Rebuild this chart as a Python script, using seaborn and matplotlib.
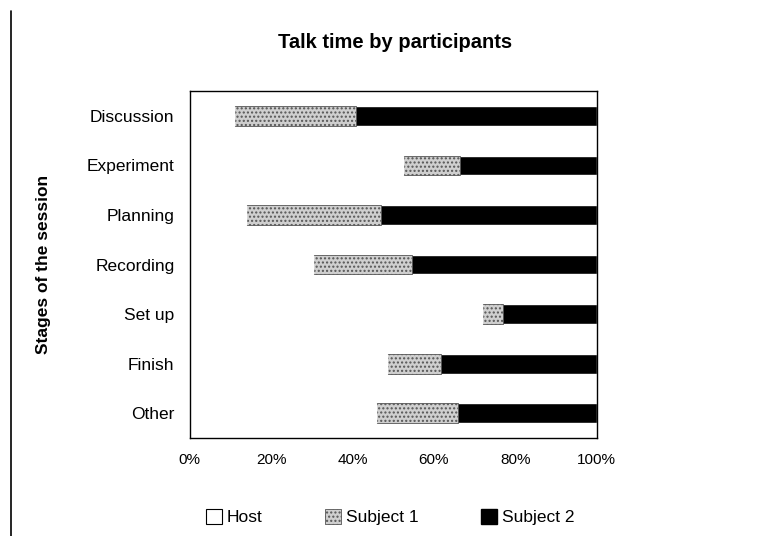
import numpy as np
import pandas as pd
import seaborn as sns
import matplotlib.pyplot as plt
from matplotlib.patches import Patch
from matplotlib.lines import Line2D

# values (percent of talk time)
stages = ['Discussion', 'Experiment', 'Planning', 'Recording', 'Set up', 'Finish', 'Other']
host = [10.8, 52.3, 13.9, 30.3, 71.9, 48.5, 45.7]
subject1 = [30.0, 14.2, 33.2, 24.2, 5.1, 13.3, 20.2]
subject2 = [59.2, 33.5, 52.9, 45.5, 23.0, 38.2, 34.1]
xticks = [0, 20, 40, 60, 80, 100]

df = pd.DataFrame({'stage': stages, 'host': host, 'subject1': subject1, 'subject2': subject2})
df['cum1'] = df['host'] + df['subject1']
df['cum2'] = df['cum1'] + df['subject2']

sns.set_style('white')
plt.rcParams['font.family'] = ['Liberation Sans', 'DejaVu Sans']
for k in ['text.color', 'axes.labelcolor', 'xtick.color', 'ytick.color']:
    plt.rcParams[k] = 'black'

fig = plt.figure(figsize=(7.65, 5.36), dpi=100)
ax = fig.add_axes([0.248, 0.183, 0.532, 0.647])

# stacked bars drawn back to front
sns.barplot(data=df, x='cum2', y='stage', orient='h', color='black', width=0.4,
            saturation=1, ax=ax)
sns.barplot(data=df, x='cum1', y='stage', orient='h', color='#cfcfcf', width=0.4,
            saturation=1, ax=ax, edgecolor='#555555', linewidth=0.6, hatch='....')
sns.barplot(data=df, x='host', y='stage', orient='h', color='white', width=0.4,
            saturation=1, ax=ax)

ax.set_xlim(0, 100)
ax.set_ylim(6.5, -0.5)
ax.set_xticks(xticks)
ax.set_xticklabels([f'{t}%' for t in xticks], fontsize=11)
ax.tick_params(axis='y', labelsize=12.5, length=0, pad=11)
ax.tick_params(axis='x', length=0, pad=11)
ax.set_xlabel('')
ax.set_ylabel('Stages of the session', fontsize=12.5, fontweight='bold', labelpad=26)
for s in ax.spines.values():
    s.set_color('black')
    s.set_linewidth(1.0)

fig.text(0.517, 0.921, 'Talk time by participants', ha='center', va='center',
         fontsize=14.5, fontweight='bold')

# left border of the chart area
fig.add_artist(Line2D([0.014, 0.014], [0.0, 0.98], color='black', lw=1.2))

handles = [Patch(facecolor='white', edgecolor='black', linewidth=0.8),
           Patch(facecolor='#cfcfcf', edgecolor='#555555', hatch='....', linewidth=0.6),
           Patch(facecolor='black', edgecolor='black')]
fig.legend(handles, ['Host', 'Subject 1', 'Subject 2'], loc='center',
           bbox_to_anchor=(0.51, 0.035), ncol=3, frameon=False, fontsize=12.5,
           handlelength=0.9, handleheight=0.9, handletextpad=0.3, columnspacing=3.6)

fig.savefig('out.png', dpi=100)
